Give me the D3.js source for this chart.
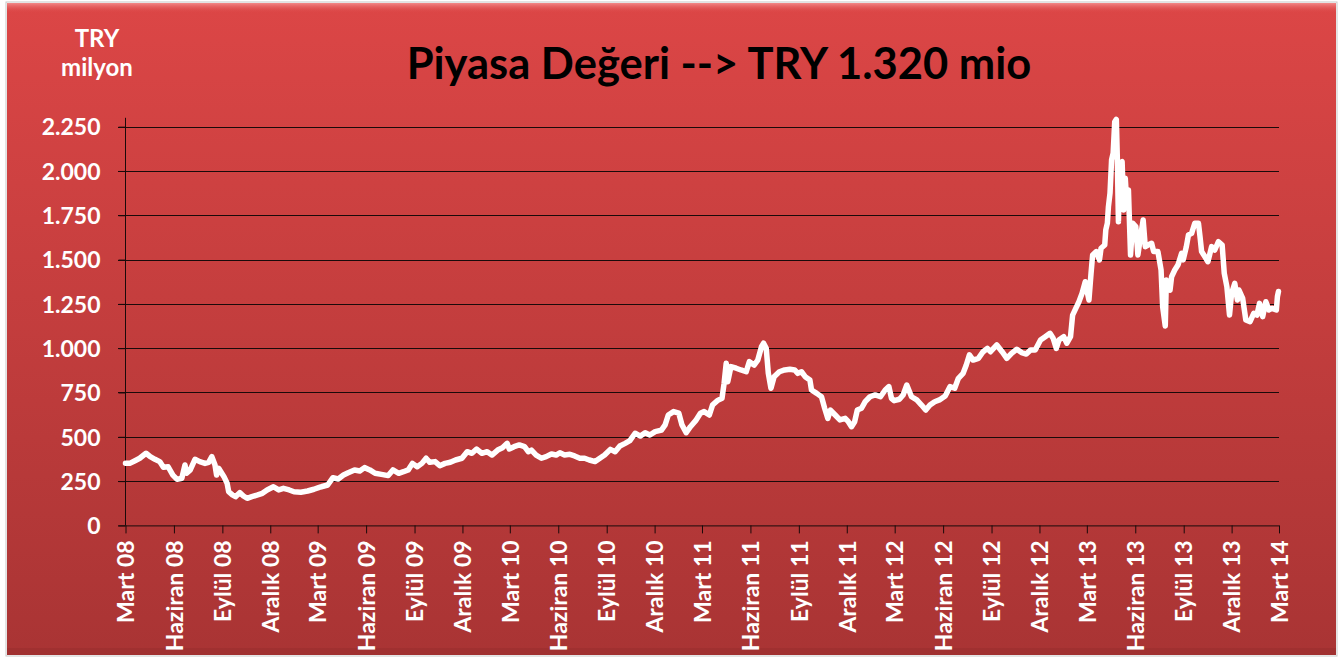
<!DOCTYPE html>
<html>
<head>
<meta charset="utf-8">
<script src="https://cdn.jsdelivr.net/npm/d3@7"></script>
<style>
  body { margin: 0; background: #ffffff; }
  svg text { font-family: Lato, "Open Sans", sans-serif; font-weight: 700; }
</style>
</head>
<body>
<div id="chart"></div>
<script>
// market value, TRY million
var dates = [
  "2008-03-01","2008-03-09","2008-03-19","2008-03-28","2008-04-09","2008-04-17","2008-04-26","2008-05-05","2008-05-12","2008-05-21",
  "2008-05-30","2008-06-07","2008-06-16","2008-06-22","2008-06-25","2008-07-02","2008-07-11","2008-07-20","2008-07-30","2008-08-06",
  "2008-08-12","2008-08-18","2008-08-21","2008-08-25","2008-09-04","2008-09-10","2008-09-13","2008-09-20","2008-09-26","2008-10-04",
  "2008-10-11","2008-10-18","2008-10-27","2008-11-07","2008-11-16","2008-11-25","2008-12-07","2008-12-17","2008-12-26","2009-01-06",
  "2009-01-15","2009-01-28","2009-02-10","2009-02-22","2009-03-04","2009-03-08","2009-03-20","2009-03-30","2009-04-09","2009-04-19",
  "2009-04-28","2009-05-10","2009-05-20","2009-05-29","2009-06-08","2009-06-18","2009-06-30","2009-07-13","2009-07-22","2009-08-02",
  "2009-08-11","2009-08-20","2009-08-28","2009-09-06","2009-09-15","2009-09-23","2009-09-30","2009-10-10","2009-10-19","2009-10-29",
  "2009-11-08","2009-11-18","2009-11-30","2009-12-10","2009-12-19","2009-12-28","2010-01-07","2010-01-17","2010-01-26","2010-02-06",
  "2010-02-15","2010-02-24","2010-02-28","2010-03-09","2010-03-19","2010-03-29","2010-04-05","2010-04-11","2010-04-20","2010-04-30",
  "2010-05-09","2010-05-19","2010-05-28","2010-06-04","2010-06-13","2010-06-23","2010-07-02","2010-07-12","2010-07-21","2010-07-30",
  "2010-08-10","2010-08-19","2010-08-28","2010-09-08","2010-09-17","2010-09-26","2010-10-06","2010-10-15","2010-10-25","2010-11-04",
  "2010-11-13","2010-11-22","2010-12-02","2010-12-14","2010-12-21","2010-12-27","2011-01-06","2011-01-16","2011-01-22","2011-01-30",
  "2011-02-07","2011-02-17","2011-02-26","2011-03-05","2011-03-15","2011-03-21","2011-03-30","2011-04-08","2011-04-12","2011-04-16",
  "2011-04-19","2011-04-25","2011-05-05","2011-05-14","2011-05-24","2011-05-30","2011-06-08","2011-06-15","2011-06-22","2011-06-26",
  "2011-07-01","2011-07-05","2011-07-10","2011-07-16","2011-07-26","2011-08-05","2011-08-15","2011-08-24","2011-08-30","2011-09-06",
  "2011-09-13","2011-09-22","2011-09-25","2011-10-05","2011-10-14","2011-10-20","2011-10-26","2011-10-31","2011-11-09","2011-11-18",
  "2011-11-28","2011-12-04","2011-12-10","2011-12-16","2011-12-21","2011-12-29","2012-01-05","2012-01-14","2012-01-24","2012-02-03",
  "2012-02-12","2012-02-19","2012-02-24","2012-02-29","2012-03-10","2012-03-17","2012-03-24","2012-04-02","2012-04-12","2012-04-21",
  "2012-04-29","2012-05-07","2012-05-16","2012-05-25","2012-06-05","2012-06-14","2012-06-23","2012-06-30","2012-07-09","2012-07-15",
  "2012-07-21","2012-07-28","2012-08-07","2012-08-16","2012-08-24","2012-08-30","2012-09-11","2012-09-21","2012-09-30","2012-10-09",
  "2012-10-19","2012-10-28","2012-11-06","2012-11-14","2012-11-23","2012-12-03","2012-12-12","2012-12-21","2012-12-27","2013-01-02",
  "2013-01-07","2013-01-16","2013-01-22","2013-01-29","2013-02-02","2013-02-08","2013-02-14","2013-02-20","2013-02-26","2013-03-01",
  "2013-03-05","2013-03-09","2013-03-12","2013-03-19","2013-03-25","2013-03-28","2013-04-04","2013-04-06","2013-04-09","2013-04-11",
  "2013-04-14","2013-04-17","2013-04-20","2013-04-23","2013-04-26","2013-04-28","2013-04-30","2013-05-03","2013-05-07","2013-05-10",
  "2013-05-13","2013-05-16","2013-05-19","2013-05-23","2013-05-27","2013-06-02","2013-06-06","2013-06-11","2013-06-16","2013-06-20",
  "2013-06-25","2013-07-02","2013-07-06","2013-07-14","2013-07-20","2013-07-23","2013-07-28","2013-07-30","2013-08-06","2013-08-09",
  "2013-08-15","2013-08-21","2013-08-28","2013-08-31","2013-09-06","2013-09-10","2013-09-16","2013-09-22","2013-09-29","2013-10-02",
  "2013-10-05","2013-10-11","2013-10-17","2013-10-24","2013-10-30","2013-11-06","2013-11-13","2013-11-17","2013-11-22","2013-11-27",
  "2013-12-01","2013-12-07","2013-12-12","2013-12-15","2013-12-22","2013-12-28","2014-01-05","2014-01-12","2014-01-18","2014-01-23",
  "2014-01-29","2014-02-04","2014-02-10","2014-02-16","2014-02-24","2014-02-26","2014-02-28"
];
var values = [
  350,350,365,379,407,388,373,360,328,331,
  284,260,266,341,294,313,373,360,350,356,
  388,341,284,322,275,238,190,172,162,185,
  166,153,162,172,181,200,218,200,209,200,
  190,187,194,204,215,218,228,269,262,284,
  297,313,307,326,313,294,288,281,313,294,
  303,313,350,331,350,379,356,360,337,350,
  356,369,379,416,407,431,407,416,397,425,
  438,463,431,444,454,444,416,425,397,379,
  388,403,397,410,397,401,392,379,379,369,
  360,379,397,429,416,448,463,478,520,504,
  523,510,529,538,567,623,642,633,567,523,
  557,591,633,642,623,679,704,717,802,915,
  811,896,887,877,867,924,905,933,1008,1028,
  1000,858,774,839,867,877,881,877,858,867,
  839,820,764,745,726,661,604,651,623,595,
  604,585,557,585,651,661,698,726,736,726,
  764,783,717,704,712,736,792,726,708,679,
  651,679,698,708,730,783,774,830,858,905,
  962,933,943,980,999,980,1018,980,943,971,
  994,975,967,990,990,1046,1065,1084,1056,999,
  1046,1065,1028,1065,1187,1225,1262,1310,1375,1328,
  1272,1423,1526,1545,1498,1564,1582,1667,1705,1798,
  1874,2062,2100,2278,2291,2062,1714,2043,2052,1780,
  1959,1808,1893,1526,1705,1686,1526,1629,1723,1573,
  1582,1592,1545,1545,1441,1234,1125,1385,1328,1403,
  1441,1469,1535,1498,1573,1639,1648,1705,1705,1629,
  1545,1517,1488,1573,1554,1601,1582,1423,1347,1187,
  1310,1366,1272,1328,1281,1159,1150,1197,1187,1253,
  1178,1262,1216,1225,1216,1291,1320
];
var yTicks = [0, 250, 500, 750, 1000, 1250, 1500, 1750, 2000, 2250];
var monthNames = ["Ocak","Şubat","Mart","Nisan","Mayıs","Haziran","Temmuz","Ağustos","Eylül","Ekim","Kasım","Aralık"];
var titleText = "Piyasa Değeri --> TRY 1.320 mio";
var yTitle = ["TRY", "milyon"];

var W = 1342, H = 659;
var parse = d3.timeParse("%Y-%m-%d");
var data = dates.map(function (d, i) { return { date: parse(d), value: values[i] }; });

var svg = d3.select("#chart").append("svg").attr("width", W).attr("height", H);

var defs = svg.append("defs");
var bg = defs.append("linearGradient").attr("id", "bg").attr("x1", 0).attr("y1", 0).attr("x2", 0).attr("y2", 1);
bg.append("stop").attr("offset", "0%").attr("stop-color", "#dc4646");
bg.append("stop").attr("offset", "100%").attr("stop-color", "#a93434");
var hi = defs.append("linearGradient").attr("id", "hi").attr("x1", 0).attr("y1", 0).attr("x2", 0).attr("y2", 1);
hi.append("stop").attr("offset", "0%").attr("stop-color", "#f59090").attr("stop-opacity", 0.9);
hi.append("stop").attr("offset", "100%").attr("stop-color", "#dc4646").attr("stop-opacity", 0);

// chart box with a soft bevel
svg.append("rect").attr("x", 6).attr("y", 2).attr("width", 1331).attr("height", 654)
  .attr("fill", "none").attr("stroke", "#c8c8c8").attr("stroke-width", 1);
svg.append("rect").attr("x", 7).attr("y", 3).attr("width", 1329).attr("height", 652).attr("fill", "url(#bg)");
svg.append("rect").attr("x", 7).attr("y", 3).attr("width", 1329).attr("height", 10).attr("fill", "url(#hi)");
svg.append("rect").attr("x", 7).attr("y", 648).attr("width", 1329).attr("height", 7).attr("fill", "#8e2a2a").attr("opacity", 0.35);

var x = d3.scaleTime().domain([new Date(2008, 2, 1), new Date(2014, 2, 1)]).range([125.5, 1279]);
var y = d3.scaleLinear().domain([0, 2300]).range([525.4, 117.8]);

// gridlines
svg.append("g").selectAll("line").data(yTicks.slice(1)).enter().append("line")
  .attr("x1", 118).attr("x2", 1279)
  .attr("y1", function (d) { return Math.round(y(d)) + 0.5; })
  .attr("y2", function (d) { return Math.round(y(d)) + 0.5; })
  .attr("stroke", "#1a0a0a").attr("stroke-width", 1.2);

// y axis
var yAxis = svg.append("g").attr("transform", "translate(125.5,0)")
  .call(d3.axisLeft(y).tickValues(yTicks).tickSize(7).tickPadding(18)
    .tickFormat(function (d) { return d3.format(",")(d).replace(/,/g, "."); }));
yAxis.select(".domain").attr("stroke", "#1a0a0a").attr("d", "M0," + y(2300) + "V" + y(0));
yAxis.selectAll(".tick line").attr("stroke", "#1a0a0a");
yAxis.selectAll("text").attr("fill", "#ffffff").style("font-size", "23px").attr("dy", "0.36em");

// x axis, a tick every three months from Mart 08
var xTicks = d3.timeMonth.range(new Date(2008, 2, 1), new Date(2014, 2, 2), 3);
var xAxis = svg.append("g").attr("transform", "translate(0," + y(0) + ")")
  .call(d3.axisBottom(x).tickValues(xTicks).tickSize(8).tickSizeOuter(0)
    .tickFormat(function (d) { return monthNames[d.getMonth()] + " " + d3.timeFormat("%y")(d); }));
xAxis.select(".domain").attr("stroke", "#1a0a0a").attr("d", "M118,0.5H1279");
xAxis.selectAll(".tick line").attr("stroke", "#1a0a0a");
xAxis.selectAll("text").attr("fill", "#ffffff").style("font-size", "23px")
  .attr("text-anchor", "end").attr("transform", "rotate(-90)")
  .attr("x", -15).attr("y", 0).attr("dy", "0.36em");

// line
var line = d3.line().x(function (d) { return x(d.date); }).y(function (d) { return y(d.value); });
svg.append("path").datum(data).attr("d", line)
  .attr("fill", "none").attr("stroke", "#ffffff").attr("stroke-width", 5.5)
  .attr("stroke-linejoin", "round").attr("stroke-linecap", "round");

// titles
svg.append("text").attr("x", 719).attr("y", 79).attr("text-anchor", "middle")
  .attr("fill", "#000000").style("font-size", "43.5px").text(titleText);
svg.append("g").selectAll("text").data(yTitle).enter().append("text")
  .attr("x", 97).attr("y", function (d, i) { return 47 + i * 29; })
  .attr("text-anchor", "middle").attr("fill", "#ffffff").style("font-size", "24px")
  .text(function (d) { return d; });
</script>
</body>
</html>
